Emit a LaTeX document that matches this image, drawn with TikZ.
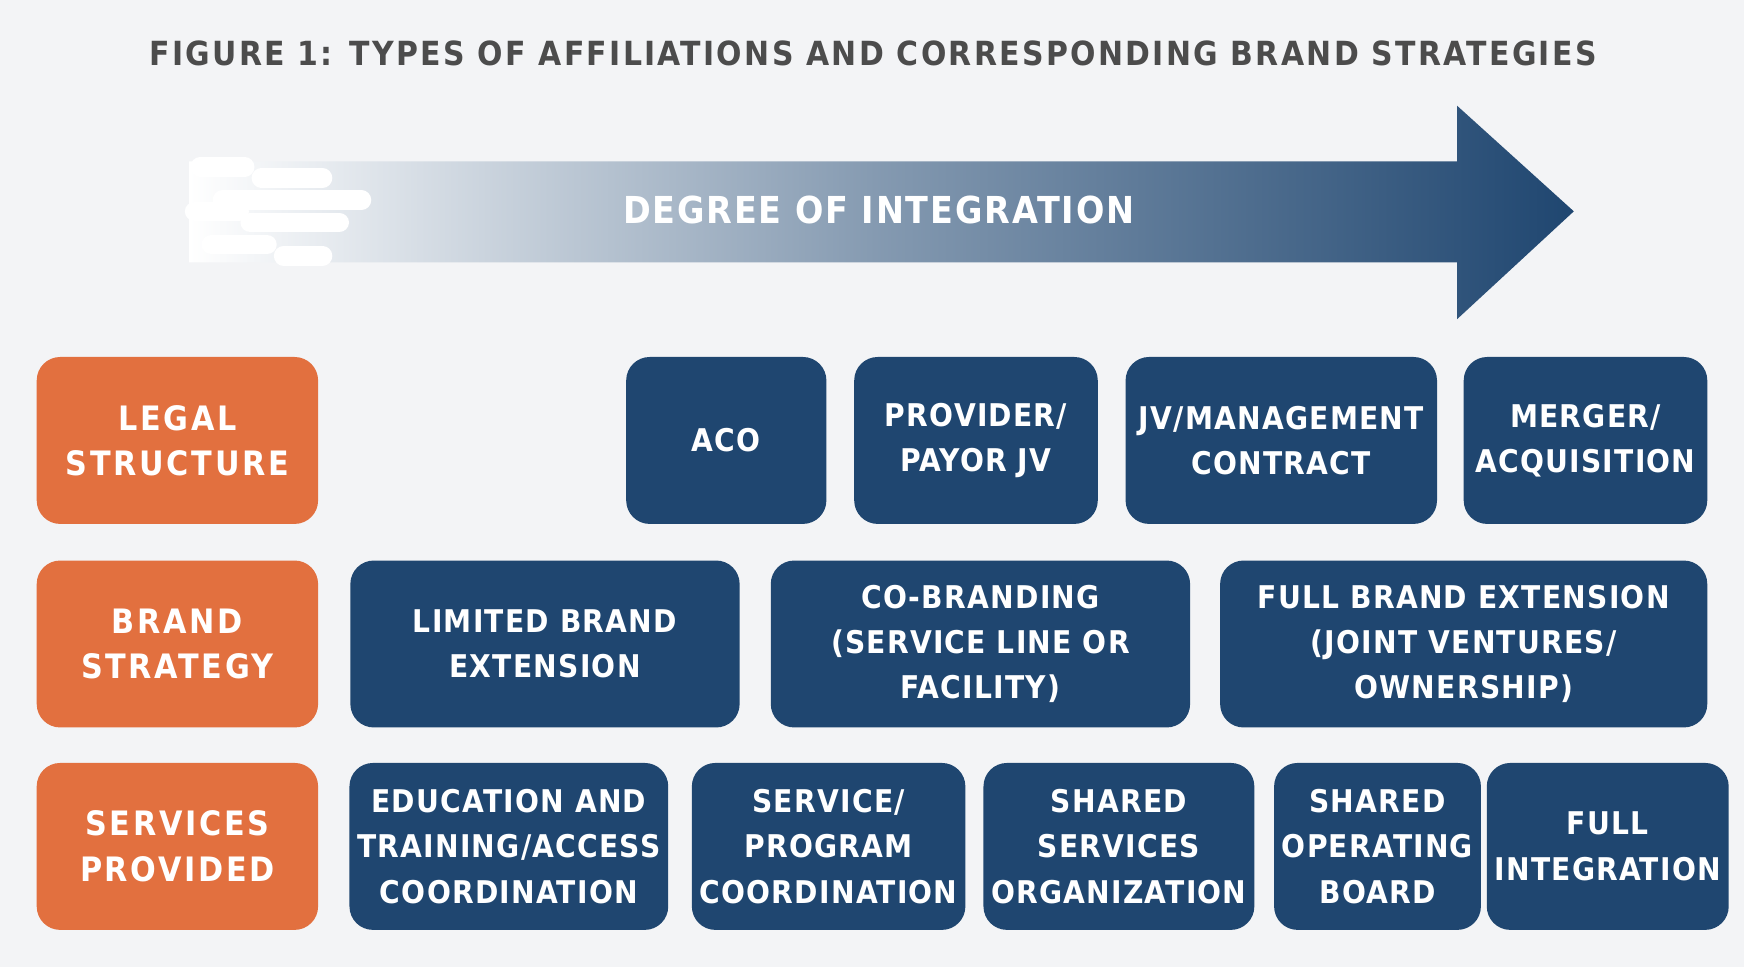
\documentclass[tikz,border=0pt]{standalone}
\usepackage{fontspec}
\setmainfont{DejaVu Sans Condensed}[BoldFont={DejaVu Sans Condensed Bold}]
\usetikzlibrary{shapes, arrows}
\definecolor{navy}{HTML}{1F4670}
\definecolor{rust}{HTML}{E2703F}
\definecolor{bgray}{HTML}{F3F4F6}
\tikzstyle{row} = [rounded corners=6pt, align=center, text=white, font=\bfseries\fontsize{8}{11.6}\selectfont\addfontfeature{LetterSpace=4}, inner sep=2pt]
\tikzstyle{kind} = [row, fill=navy]
\tikzstyle{level} = [row, fill=rust, font=\bfseries\fontsize{8.6}{11.6}\selectfont\addfontfeature{LetterSpace=8}]
\tikzstyle{streak} = [line width=5pt, line cap=round, white]
\newcommand{\rowbox}[7]{\node[#1, minimum width={(#4-#3)*0.01cm}, minimum height=1.5cm] (#2) at ({(#3+#4)/2},#5) {#6};}

\begin{document}
\begin{tikzpicture}[x=0.01cm, y=-0.01cm]
\useasboundingbox (0,0) rectangle (1568,869);
\fill[bgray] (0,0) rectangle (1568,869);
\node[font=\bfseries\fontsize{8.5}{10}\selectfont\addfontfeature{LetterSpace=7}, text=black!70] (title) at (785,48) {FIGURE 1: TYPES OF AFFILIATIONS AND CORRESPONDING BRAND STRATEGIES};
% integration arrow
\shade[left color=white, right color=navy, middle color=navy!55] (170,145) -- (1310,145) -- (1310,95) -- (1415,190) -- (1310,287) -- (1310,236) -- (170,236) -- cycle;
\foreach \xa/\xb/\ya in {180/220/150, 235/290/160, 200/325/180, 175/215/190, 225/305/200, 190/240/220, 255/290/230}
  \draw[streak] (\xa,\ya) -- (\xb,\ya);
\node[font=\bfseries\fontsize{9.5}{11}\selectfont\addfontfeature{LetterSpace=5}, text=white] (degree) at (790,189) {DEGREE OF INTEGRATION};
% legal structure
\rowbox{level}{legal}{33}{286}{396}{LEGAL\\STRUCTURE}{}
\rowbox{kind}{aco}{563}{743}{396}{ACO}{}
\rowbox{kind}{payor}{768}{987}{396}{PROVIDER/\\PAYOR JV}{}
\rowbox{kind}{jv}{1012}{1292}{396}{JV/MANAGEMENT\\CONTRACT}{}
\rowbox{kind}{merger}{1316}{1535}{396}{MERGER/\\ACQUISITION}{}
% brand strategy
\rowbox{level}{brand}{33}{286}{579}{BRAND\\STRATEGY}{}
\rowbox{kind}{limited}{315}{665}{579}{LIMITED BRAND\\EXTENSION}{}
\rowbox{kind}{cobrand}{693}{1070}{579}{CO-BRANDING\\(SERVICE LINE OR\\FACILITY)}{}
\rowbox{kind}{fullbrand}{1097}{1535}{579}{FULL BRAND EXTENSION\\(JOINT VENTURES/\\OWNERSHIP)}{}
% services provided
\rowbox{level}{services}{33}{286}{761}{SERVICES\\PROVIDED}{}
\rowbox{kind}{education}{315}{600}{761}{EDUCATION AND\\TRAINING/ACCESS\\COORDINATION}{}
\rowbox{kind}{program}{626}{864}{761}{SERVICE/\\PROGRAM\\COORDINATION}{}
\rowbox{kind}{shared}{889}{1123}{761}{SHARED\\SERVICES\\ORGANIZATION}{}
\rowbox{kind}{board}{1149}{1328}{761}{SHARED\\OPERATING\\BOARD}{}
\rowbox{kind}{full}{1356}{1535}{761}{FULL\\INTEGRATION}{}
\end{tikzpicture}
\end{document}
